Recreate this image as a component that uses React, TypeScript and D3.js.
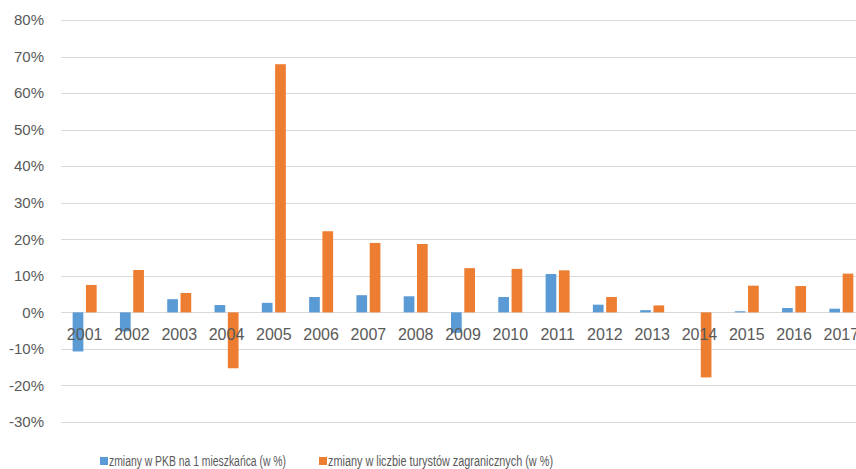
import React, { useRef, useEffect } from 'react';
import * as d3 from 'd3';

const years = ['2001', '2002', '2003', '2004', '2005', '2006', '2007', '2008', '2009', '2010', '2011', '2012', '2013', '2014', '2015', '2016', '2017'];
const gdpChange = [-10.7, -5.2, 3.6, 2.0, 2.6, 4.2, 4.7, 4.4, -5.6, 4.2, 10.5, 2.1, 0.6, 0.0, 0.3, 1.2, 1.0];
const touristChange = [7.5, 11.6, 5.3, -15.3, 67.9, 22.2, 19.0, 18.7, 12.1, 11.9, 11.5, 4.2, 1.9, -17.8, 7.3, 7.2, 10.6];
const yTicks = [-30, -20, -10, 0, 10, 20, 30, 40, 50, 60, 70, 80];
const seriesNames = ['zmiany w PKB na 1 mieszkańca (w %)', 'zmiany w liczbie turystów zagranicznych (w %)'];
const seriesColors = ['#5B9BD5', '#ED7D31'];

const W = 856;
const H = 469;

const Chart: React.FC = () => {
  const svgRef = useRef<SVGSVGElement | null>(null);

  useEffect(() => {
    if (!svgRef.current) return;
    const svg = d3.select(svgRef.current);

    const x = d3.scaleBand().domain(years).range([61, 865]).padding(0);
    const y = d3.scaleLinear().domain([-30, 80]).range([422, 20]);

    const barW = 10.7;
    const gap = 1.3;

    // gridlines
    svg.append('g')
      .selectAll('line')
      .data(yTicks)
      .join('line')
      .attr('x1', 61)
      .attr('x2', W)
      .attr('y1', d => Math.round(y(d)) + 0.5)
      .attr('y2', d => Math.round(y(d)) + 0.5)
      .attr('stroke', '#d9d9d9')
      .attr('stroke-width', 1);

    // y labels
    svg.append('g')
      .selectAll('text')
      .data(yTicks)
      .join('text')
      .attr('x', 44)
      .attr('y', d => y(d))
      .attr('dy', '0.35em')
      .attr('text-anchor', 'end')
      .attr('font-family', 'Liberation Sans, Arial, sans-serif')
      .attr('font-size', 15)
      .attr('fill', '#595959')
      .text(d => `${d}%`);

    // bars
    const bars = svg.append('g');
    bars.selectAll('rect.gdp')
      .data(years)
      .join('rect')
      .attr('class', 'gdp')
      .attr('x', d => x(d)! + x.bandwidth() / 2 - gap - barW)
      .attr('width', barW)
      .attr('y', (d, i) => y(Math.max(0, gdpChange[i])))
      .attr('height', (d, i) => Math.abs(y(gdpChange[i]) - y(0)))
      .attr('fill', seriesColors[0]);

    bars.selectAll('rect.tour')
      .data(years)
      .join('rect')
      .attr('class', 'tour')
      .attr('x', d => x(d)! + x.bandwidth() / 2 + gap)
      .attr('width', barW)
      .attr('y', (d, i) => y(Math.max(0, touristChange[i])))
      .attr('height', (d, i) => Math.abs(y(touristChange[i]) - y(0)))
      .attr('fill', seriesColors[1]);

    // x labels, drawn at the zero line
    svg.append('g')
      .selectAll('text')
      .data(years)
      .join('text')
      .attr('x', d => x(d)! + x.bandwidth() / 2)
      .attr('y', y(0) + 28)
      .attr('text-anchor', 'middle')
      .attr('font-family', 'Liberation Sans, Arial, sans-serif')
      .attr('font-size', 16)
      .attr('fill', '#595959')
      .text(d => d);

    // legend (narrow Calibri-like text squeezed to the reference widths)
    const legendX = [100, 319];
    const legendTextW = [177, 225];
    const legend = svg.append('g')
      .selectAll('g')
      .data(seriesNames)
      .join('g')
      .attr('transform', (d, i) => `translate(${legendX[i]},461)`);
    legend.append('rect')
      .attr('x', 0)
      .attr('y', -4)
      .attr('width', 8)
      .attr('height', 8)
      .attr('fill', (d, i) => seriesColors[i]);
    legend.append('text')
      .attr('x', 9)
      .attr('y', 0)
      .attr('dy', '0.35em')
      .attr('font-family', 'Liberation Sans, Arial, sans-serif')
      .attr('font-size', 14)
      .attr('textLength', (d, i) => legendTextW[i])
      .attr('lengthAdjust', 'spacingAndGlyphs')
      .attr('fill', '#595959')
      .text(d => d);

    return () => {
      d3.select(svgRef.current).selectAll('*').remove();
    };
  }, []);

  return (
    <svg
      ref={svgRef}
      width={W}
      height={H}
      style={{ position: 'absolute', left: 0, top: 0, background: '#ffffff' }}
    />
  );
};

export default function App() {
  return <Chart />;
}
